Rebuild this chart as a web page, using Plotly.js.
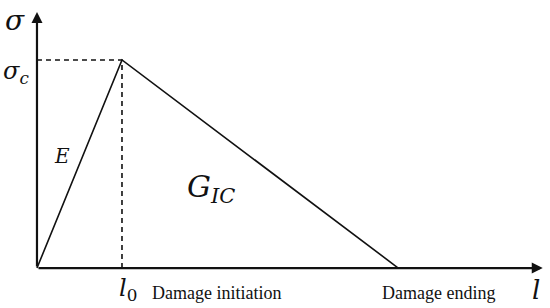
<!DOCTYPE html>
<html>
<head>
<meta charset="utf-8">
<script src="https://cdn.plot.ly/plotly-3.0.1.min.js"></script>
<style>html,body{margin:0;padding:0;background:#fff}</style>
</head>
<body>
<div id="chart" style="width:550px;height:308px"></div>
<script>
// bilinear traction-separation law (normalised: l0 = 1, sigma_c = 1)
var lawX = [0, 1, 4.25];
var lawY = [0, 1, 0];
var peakX = 1, peakY = 1;
var axisEndX = 5.95, axisEndY = 1.23;

var serif = 'Liberation Serif';
var mathFont = 'DejaVu Serif';

var traces = [
  {x: lawX, y: lawY, mode: 'lines', line: {color: '#111', width: 1.6}, hoverinfo: 'none'},
  {x: [0, peakX, peakX], y: [peakY, peakY, 0], mode: 'lines',
   line: {color: '#111', width: 1.6, dash: '5px,4px'}, hoverinfo: 'none'}
];

var ann = [
  // axes with arrows
  {x: axisEndX, y: 0, ax: 0, ay: 0, xref: 'x', yref: 'y', axref: 'x', ayref: 'y',
   showarrow: true, arrowhead: 2, arrowsize: 1, arrowwidth: 2.2, arrowcolor: '#111', text: ''},
  {x: 0, y: axisEndY, ax: 0, ay: 0, xref: 'x', yref: 'y', axref: 'x', ayref: 'y',
   showarrow: true, arrowhead: 2, arrowsize: 1, arrowwidth: 2.2, arrowcolor: '#111', text: ''},
  {x: -0.26, y: 1.19, text: '<i>σ</i>', showarrow: false, font: {family: mathFont, size: 28, color: '#111'}},
  {x: -0.25, y: 0.94, text: '<i>σ<sub>c</sub></i>', showarrow: false, font: {family: mathFont, size: 24, color: '#111'}},
  {x: 0.3, y: 0.54, text: '<i>E</i>', showarrow: false, font: {family: mathFont, size: 20, color: '#111'}},
  {x: 2.05, y: 0.38, text: '<i>G<sub>IC</sub></i>', showarrow: false, font: {family: mathFont, size: 30, color: '#111'}},
  {x: 1.07, y: -0.105, text: '<i>l</i><sub>0</sub>', showarrow: false, font: {family: mathFont, size: 24, color: '#111'}},
  {x: 1.33, y: -0.12, text: 'Damage initiation', xanchor: 'left', showarrow: false,
   font: {family: serif, size: 18, color: '#111'}},
  {x: 4.03, y: -0.12, text: 'Damage ending', xanchor: 'left', showarrow: false,
   font: {family: serif, size: 18, color: '#111'}},
  {x: 5.87, y: -0.105, text: '<i>l</i>', showarrow: false, font: {family: mathFont, size: 26, color: '#111'}}
];

var layout = {
  width: 550, height: 308,
  margin: {l: 0, r: 0, t: 0, b: 0},
  paper_bgcolor: '#fff', plot_bgcolor: '#fff',
  showlegend: false,
  xaxis: {range: [-0.435, 6.035], visible: false, fixedrange: true},
  yaxis: {range: [-0.192, 1.288], visible: false, fixedrange: true},
  annotations: ann
};

Plotly.newPlot('chart', traces, layout, {staticPlot: true});
</script>
</body>
</html>
